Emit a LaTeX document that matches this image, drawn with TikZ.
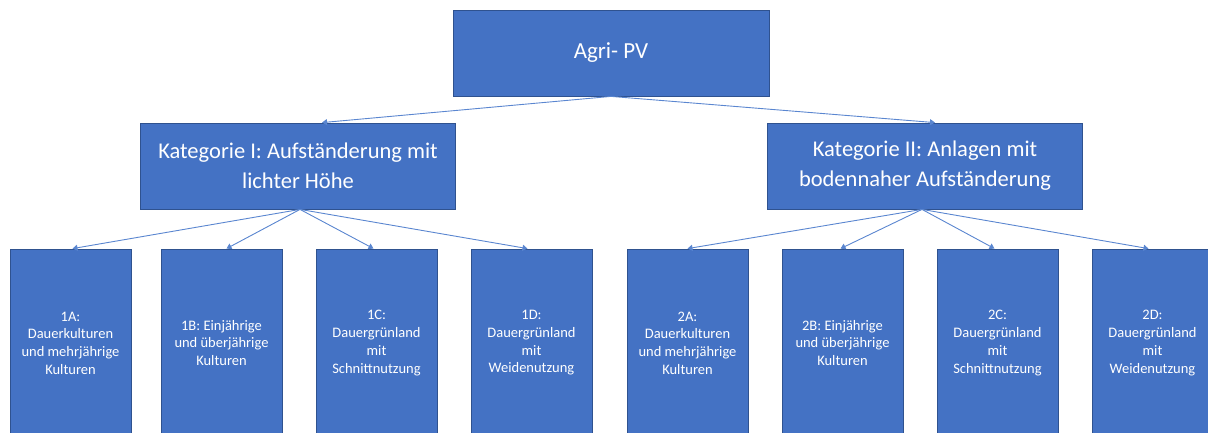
\documentclass[tikz,border=0pt]{standalone}
\usepackage{fontspec}
\setmainfont{Carlito}
\usetikzlibrary{arrows.meta,calc}
\definecolor{boxfill}{HTML}{4472C4}
\definecolor{boxline}{HTML}{2F528F}
\definecolor{linkcol}{HTML}{5A86D0}
\begin{document}
\begin{tikzpicture}[x=1pt,y=-1pt,
  box/.style={draw=boxline, line width=0.8pt, fill=boxfill, text=white,
    align=center, inner sep=0pt},
  rootbox/.style={box, minimum width=316pt, minimum height=86pt,
    font=\fontsize{23}{28}\selectfont},
  catbox/.style={box, minimum width=315pt, minimum height=86pt,
    font=\fontsize{22.5}{30}\selectfont},
  leafbox/.style={box, minimum width=121pt, minimum height=188pt,
    font=\fontsize{14.5}{17.7}\selectfont},
  link/.style={draw=linkcol, line width=0.9pt,
    -{Triangle[length=5pt,width=6pt]}}]
\useasboundingbox (0,0) rectangle (1208,432);

% root and categories
\node[rootbox] (root) at (611,53) {Agri- PV};
\node[catbox] (k1) at (298,166) {Kategorie I: Aufständerung mit\\lichter Höhe};
\node[catbox] (k2) at (925,166) {Kategorie II: Anlagen mit\\bodennaher Aufständerung};

% leaves of category I
\node[leafbox] (a1) at (70.5,343)  {1A:\\Dauerkulturen\\und mehrjährige\\Kulturen};
\node[leafbox] (b1) at (221.5,343) {1B: Einjährige\\und überjährige\\Kulturen};
\node[leafbox] (c1) at (376.5,343) {1C:\\Dauergrünland\\mit\\Schnittnutzung};
\node[leafbox] (d1) at (531.5,343) {1D:\\Dauergrünland\\mit\\Weidenutzung};

% leaves of category II
\node[leafbox] (a2) at (687.5,343)  {2A:\\Dauerkulturen\\und mehrjährige\\Kulturen};
\node[leafbox] (b2) at (842.5,343)  {2B: Einjährige\\und überjährige\\Kulturen};
\node[leafbox] (c2) at (997.5,343)  {2C:\\Dauergrünland\\mit\\Schnittnutzung};
\node[leafbox] (d2) at (1152.5,343) {2D:\\Dauergrünland\\mit\\Weidenutzung};

% connectors
\draw[link] (root.south) -- ($(k1.north)+(24,0)$);
\draw[link] (root.south) -- ($(k2.north)+(10,0)$);

\draw[link] ($(k1.south)+(2,0)$) -- ($(a1.north)+(2,0)$);
\draw[link] ($(k1.south)+(2,0)$) -- ($(b1.north)+(5,0)$);
\draw[link] ($(k1.south)+(2,0)$) -- ($(c1.north)+(-3,0)$);
\draw[link] ($(k1.south)+(2,0)$) -- ($(d1.north)+(-4,0)$);

\draw[link] ($(k2.south)+(-3,0)$) -- ($(a2.north)+(0,0)$);
\draw[link] ($(k2.south)+(-3,0)$) -- ($(b2.north)+(-2,0)$);
\draw[link] ($(k2.south)+(-3,0)$) -- ($(c2.north)+(-3,0)$);
\draw[link] ($(k2.south)+(-3,0)$) -- ($(d2.north)+(-4,0)$);
\end{tikzpicture}
\end{document}
